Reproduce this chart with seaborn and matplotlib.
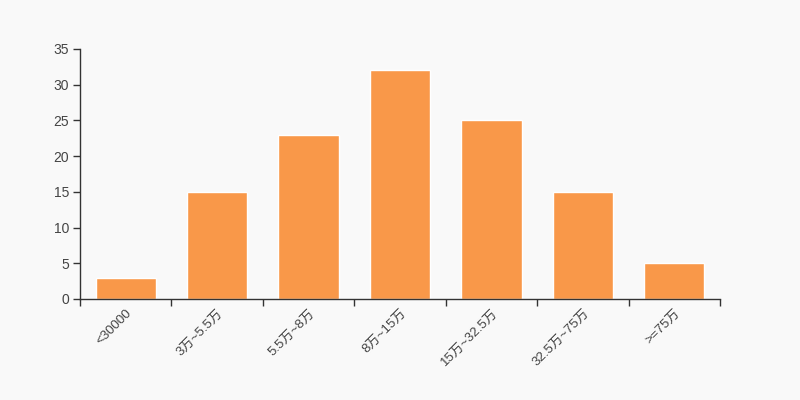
import matplotlib.pyplot as plt
import numpy as np
import pandas as pd
import seaborn as sns

categories = ["<30000", "3万~5.5万", "5.5万~8万", "8万~15万", "15万~32.5万", "32.5万~75万", ">=75万"]
counts = [3, 15, 23, 32, 25, 15, 5]

sns.set_style("white")
plt.rcParams['font.family'] = ['Liberation Sans', 'Noto Sans CJK SC', 'DejaVu Sans']

df = pd.DataFrame({"range": categories, "count": counts})

fig = plt.figure(figsize=(8, 4), dpi=100, facecolor="#f9f9f9")
ax = fig.add_axes([0.1, 0.2525, 0.8, 0.625])
ax.set_facecolor("#f9f9f9")
sns.barplot(data=df, x="range", y="count", color="#f99849", width=0.66, saturation=1, ax=ax)

ax.set_xlim(-0.5, len(categories) - 0.5)
ax.set_ylim(0, 35)
ax.set_yticks(range(0, 36, 5))
ax.set_xlabel("")
ax.set_ylabel("")

ax.set_xticks(np.arange(-0.5, len(categories), 1.0), minor=True)
ax.tick_params(axis="x", which="major", bottom=True, length=0, pad=6)
ax.tick_params(axis="x", which="minor", bottom=True, length=5, width=1, color="#333333", direction="out")
ax.tick_params(axis="y", left=True, length=5, width=1, color="#333333", direction="out", pad=3)
plt.setp(ax.get_xticklabels(), rotation=45, ha="right", rotation_mode="anchor", fontsize=9.5, color="#444444")
plt.setp(ax.get_yticklabels(), fontsize=10, color="#444444")

sns.despine(ax=ax)
for side in ["left", "bottom"]:
    ax.spines[side].set_color("#333333")
    ax.spines[side].set_linewidth(1)

plt.savefig("out.png", dpi=100, facecolor="#f9f9f9")
